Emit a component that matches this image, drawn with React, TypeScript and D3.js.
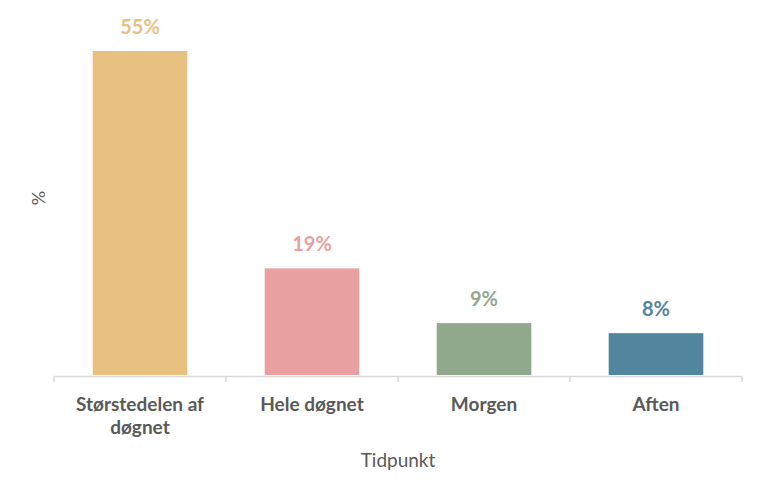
import React, { useEffect, useRef } from 'react';
import * as d3 from 'd3';

const categories = ['Størstedelen af|døgnet', 'Hele døgnet', 'Morgen', 'Aften'];
const values = [55, 18.1, 8.8, 7.1];
const valueLabels = ['55%', '19%', '9%', '8%'];
const colors = ['#E8C07F', '#E8A0A0', '#91A88C', '#52869E'];
const xTitle = 'Tidpunkt';
const yTitle = '%';

const width = 765;
const height = 499;

const App: React.FC = () => {
  const svgRef = useRef<SVGSVGElement>(null);

  useEffect(() => {
    document.body.style.margin = '0';
    if (!svgRef.current) return;
    const svg = d3.select(svgRef.current);
    svg.selectAll('*').remove();

    const font = 'Lato, "Open Sans", sans-serif';
    const textColor = '#595959';

    const x = d3.scaleBand<string>()
      .domain(categories)
      .range([54, 742])
      .paddingInner(0.45)
      .paddingOuter(0.225);

    const y = d3.scaleLinear()
      .domain([0, 55])
      .range([375, 51]);

    // bars
    svg.append('g')
      .selectAll('rect')
      .data(values)
      .join('rect')
      .attr('x', (_, i) => x(categories[i])!)
      .attr('y', d => y(d))
      .attr('width', x.bandwidth())
      .attr('height', d => y(0) - y(d))
      .attr('fill', (_, i) => colors[i]);

    // value labels
    svg.append('g')
      .selectAll('text')
      .data(values)
      .join('text')
      .attr('x', (_, i) => x(categories[i])! + x.bandwidth() / 2)
      .attr('y', d => y(d) - 17)
      .attr('text-anchor', 'middle')
      .style('font-family', font)
      .style('font-weight', 'bold')
      .style('font-size', '20px')
      .style('fill', (_, i) => colors[i])
      .text((_, i) => valueLabels[i]);

    // x axis line and ticks
    const axis = svg.append('g').attr('stroke', '#D9D9D9').attr('stroke-width', 1.5);
    axis.append('line')
      .attr('x1', 54).attr('x2', 742)
      .attr('y1', 376.5).attr('y2', 376.5);
    const step = x.step();
    const ticks = d3.range(categories.length + 1).map(i => 54 + i * step);
    axis.selectAll('line.tick')
      .data(ticks)
      .join('line')
      .attr('class', 'tick')
      .attr('x1', d => d).attr('x2', d => d)
      .attr('y1', 376.5).attr('y2', 382);

    // category labels
    const cat = svg.append('g')
      .selectAll('text')
      .data(categories)
      .join('text')
      .attr('x', d => x(d)! + x.bandwidth() / 2)
      .attr('y', 411)
      .attr('text-anchor', 'middle')
      .style('font-family', font)
      .style('font-weight', 'bold')
      .style('font-size', '19px')
      .style('fill', textColor);
    cat.each(function (d) {
      const lines = d.split('|');
      const t = d3.select(this);
      lines.forEach((line, j) => {
        t.append('tspan')
          .attr('x', x(d)! + x.bandwidth() / 2)
          .attr('dy', j === 0 ? 0 : 23)
          .text(line);
      });
    });

    // axis titles
    svg.append('text')
      .attr('x', 398)
      .attr('y', 467)
      .attr('text-anchor', 'middle')
      .style('font-family', font)
      .style('font-size', '19px')
      .style('fill', textColor)
      .text(xTitle);

    svg.append('text')
      .attr('transform', 'translate(45,198) rotate(-90)')
      .attr('text-anchor', 'middle')
      .style('font-family', font)
      .style('font-size', '18px')
      .style('fill', textColor)
      .text(yTitle);
  }, []);

  return <svg ref={svgRef} width={width} height={height} style={{ display: 'block', background: '#fff' }} />;
};

export default App;
